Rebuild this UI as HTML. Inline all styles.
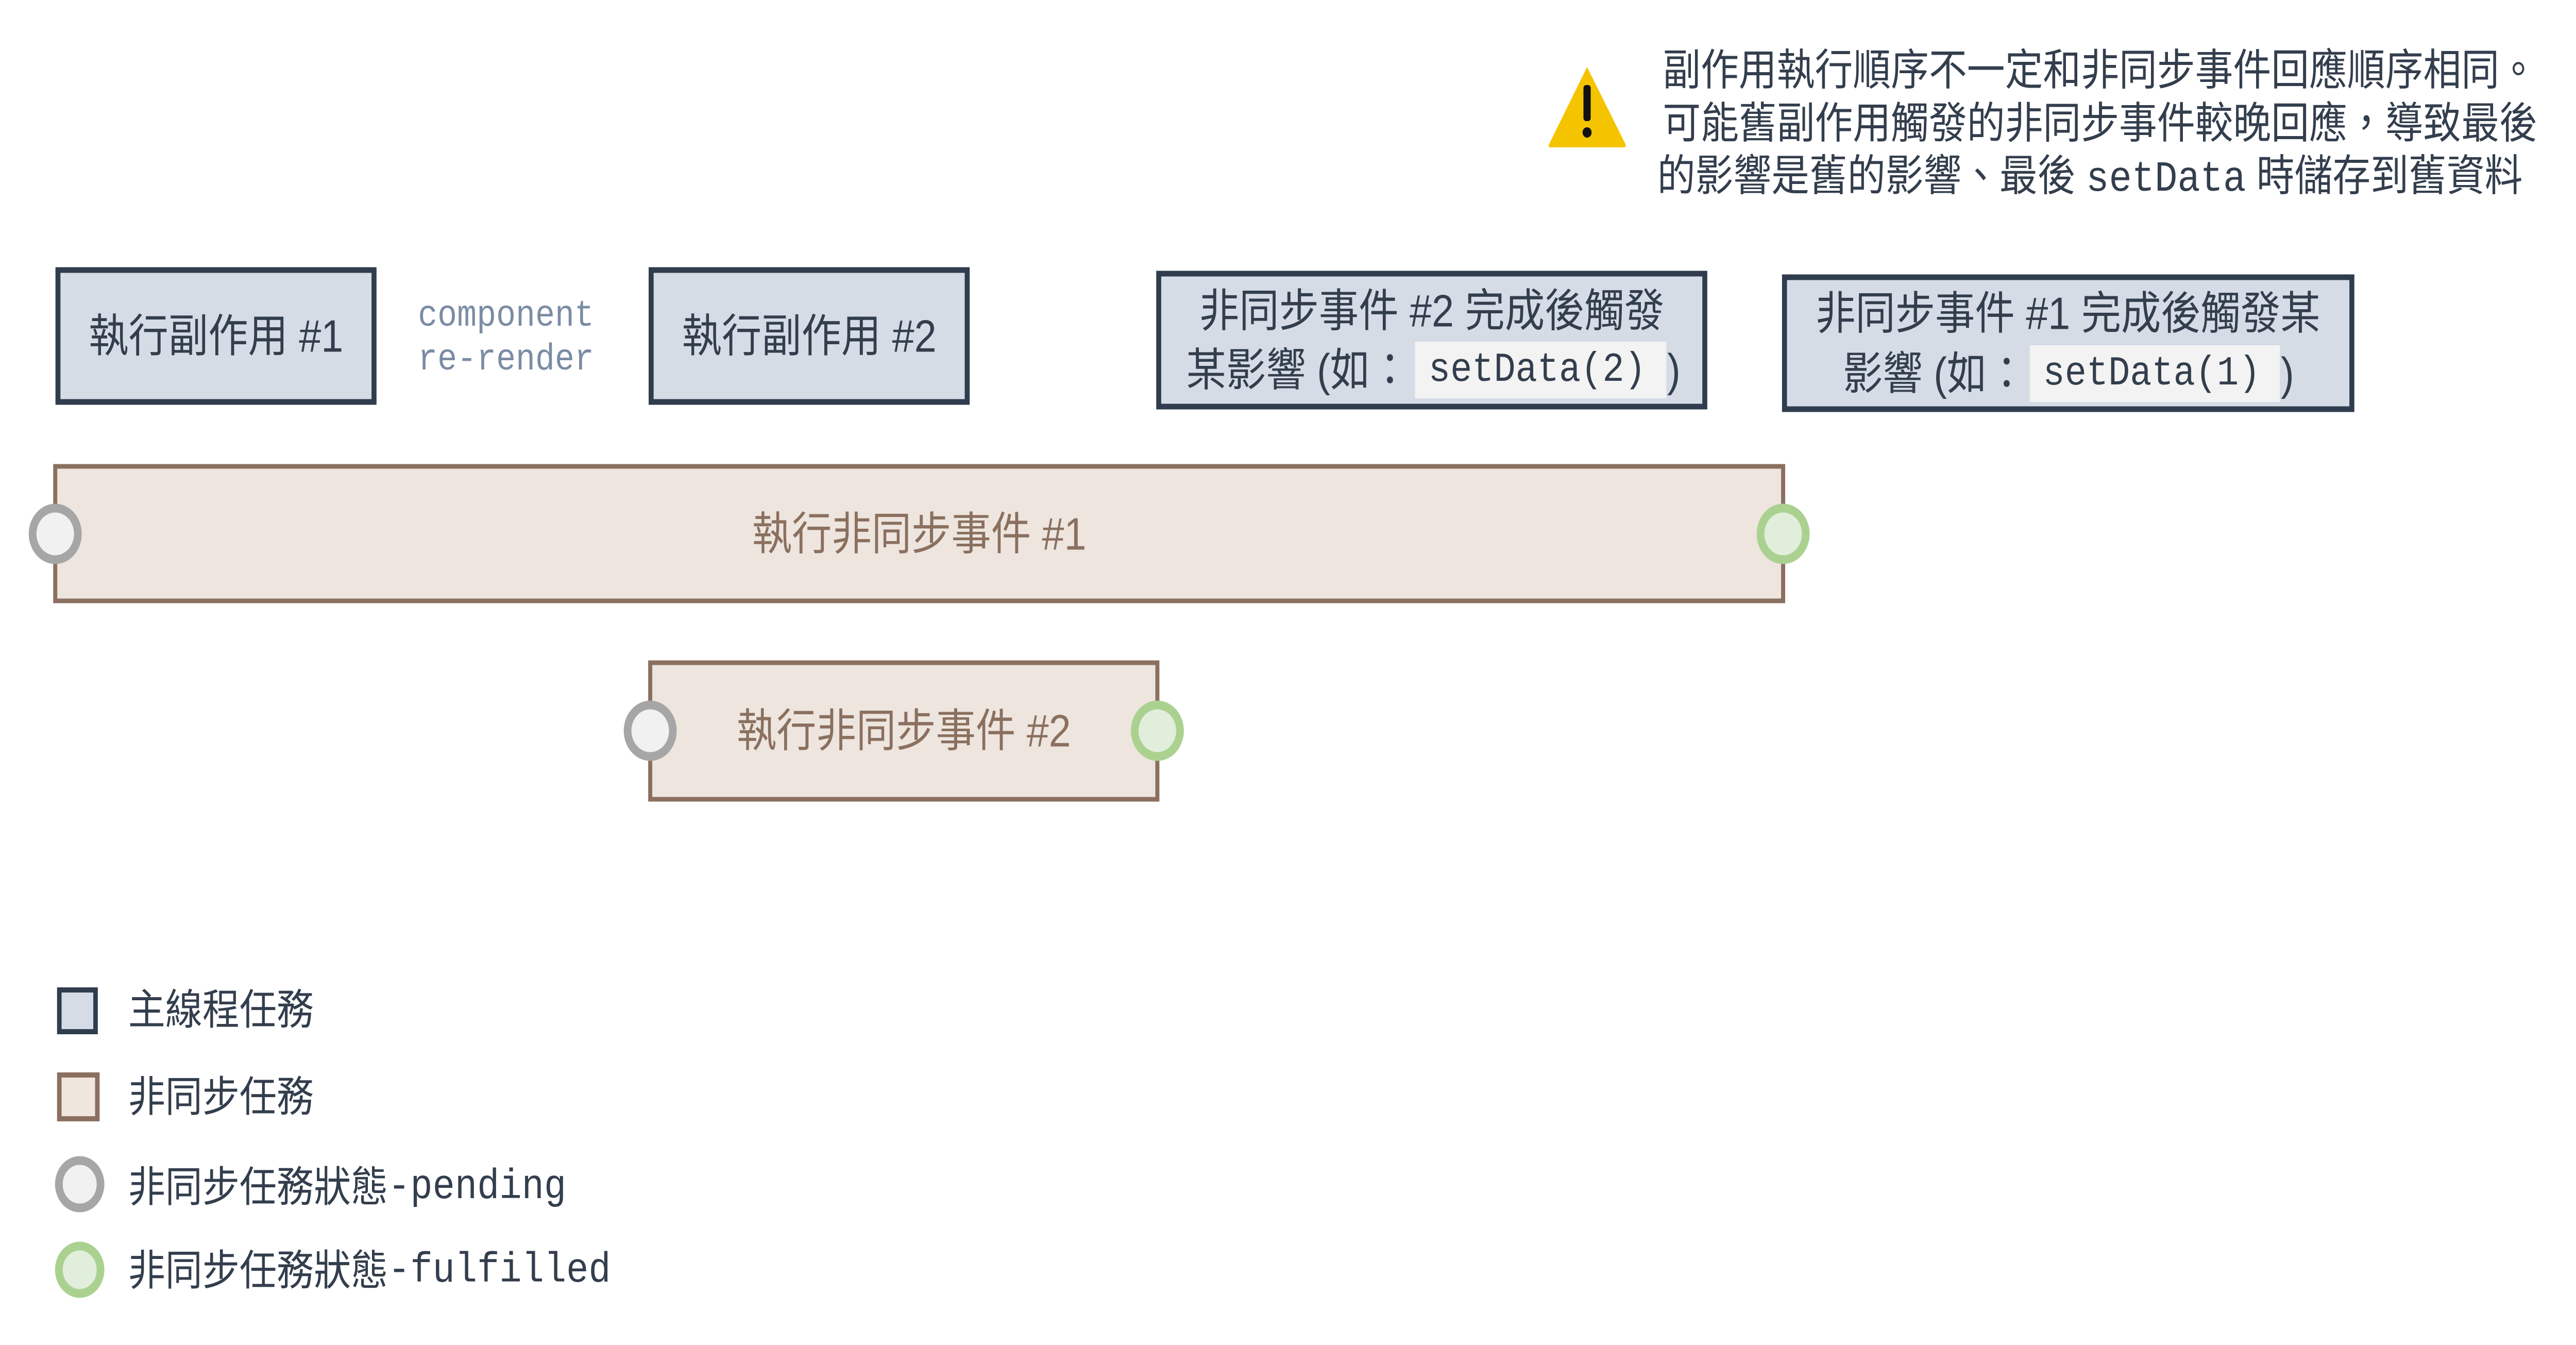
<!DOCTYPE html>
<html><head><meta charset="utf-8"><style>
html,body{margin:0;padding:0;background:#fff;width:100%;height:100%;overflow:hidden;}
svg{display:block;position:absolute;left:0;top:0;width:100vw;height:100vh;}
.cj{font-family:"Liberation Sans","Noto Sans CJK TC",sans-serif;}
.mo{font-family:"Liberation Mono","Noto Sans CJK TC",monospace;}
</style></head><body>
<svg viewBox="0 0 5689 2610" preserveAspectRatio="none" xmlns="http://www.w3.org/2000/svg">
<g>
<path d="M3505 130 L3590 280 Q3592 286 3585 286 L3425 286 Q3418 286 3421 280 Z" fill="#f5c400"/>
<rect x="3497" y="165" width="16" height="70" rx="6" fill="#111"/>
<circle cx="3505" cy="257" r="10" fill="#111"/>
</g>
<g class="cj" font-size="84" fill="#333e4d">
<text x="3672" y="165">副作用執行順序不一定和非同步事件回應順序相同。</text>
<text x="3672" y="268">可能舊副作用觸發的非同步事件較晚回應，導致最後</text>
<text x="3660" y="370">的影響是舊的影響、最後 <tspan class="mo">setData</tspan> 時儲存到舊資料</text>
</g>
<g fill="#d6dce6" stroke="#2f3d4e" stroke-width="11">
<rect x="128" y="524" width="698" height="256"/>
<rect x="1438" y="524" width="698" height="256"/>
<rect x="2559" y="531" width="1206" height="258"/>
<rect x="3941" y="538" width="1253" height="256"/>
</g>
<g class="cj" font-size="88" fill="#333e4d" text-anchor="middle" dominant-baseline="central">
<text x="477" y="652">執行副作用 #1</text>
<text x="1787" y="652">執行副作用 #2</text>
<text x="3162" y="603">非同步事件 #2 完成後觸發</text>
<text x="4567" y="608">非同步事件 #1 完成後觸發某</text>
</g>
<g class="mo" font-size="72" fill="#7b8ca3">
<text x="923" y="632">component</text>
<text x="923" y="717">re-render</text>
</g>
<rect x="3125" y="663" width="555" height="110" fill="#f3f3f3"/>
<rect x="4483" y="670" width="552" height="110" fill="#f3f3f3"/>
<g font-size="88" fill="#333e4d" dominant-baseline="central">
<text x="2620" y="718" class="cj">某影響 (如：</text>
<text x="3155" y="718" class="mo" font-size="80">setData(2)</text>
<text x="3682" y="718" class="cj">)</text>
<text x="4070" y="725" class="cj">影響 (如：</text>
<text x="4512" y="725" class="mo" font-size="80">setData(1)</text>
<text x="5037" y="725" class="cj">)</text>
</g>
<g fill="#ede5de" stroke="#8b705f" stroke-width="9">
<rect x="122" y="905" width="3816" height="261"/>
<rect x="1436" y="1286" width="1120" height="265"/>
</g>
<g class="cj" font-size="88" fill="#8b705f" text-anchor="middle" dominant-baseline="central">
<text x="2030" y="1036">執行非同步事件 #1</text>
<text x="1996" y="1418">執行非同步事件 #2</text>
</g>
<g stroke-width="17">
<circle cx="122" cy="1036" r="50" fill="#f1f1f1" stroke="#a6a6a6"/>
<circle cx="3938" cy="1036" r="50" fill="#e0eedb" stroke="#abd190"/>
<circle cx="1436" cy="1418" r="50" fill="#f1f1f1" stroke="#a6a6a6"/>
<circle cx="2556" cy="1418" r="50" fill="#e0eedb" stroke="#abd190"/>
</g>
<rect x="131" y="1921" width="80" height="81" fill="#d6dce6" stroke="#2f3d4e" stroke-width="10"/>
<rect x="131" y="2086" width="84" height="85" fill="#efe6de" stroke="#8b705f" stroke-width="10"/>
<circle cx="176" cy="2298" r="46" fill="#f1f1f1" stroke="#a6a6a6" stroke-width="17"/>
<circle cx="176" cy="2464" r="46" fill="#e0eedb" stroke="#abd190" stroke-width="17"/>
<g class="cj" font-size="82" fill="#333e4d" dominant-baseline="central">
<text x="283" y="1960">主線程任務</text>
<text x="283" y="2129">非同步任務</text>
<text x="283" y="2304">非同步任務狀態<tspan class="mo">-pending</tspan></text>
<text x="283" y="2466">非同步任務狀態<tspan class="mo">-fulfilled</tspan></text>
</g>
</svg>
</body></html>
